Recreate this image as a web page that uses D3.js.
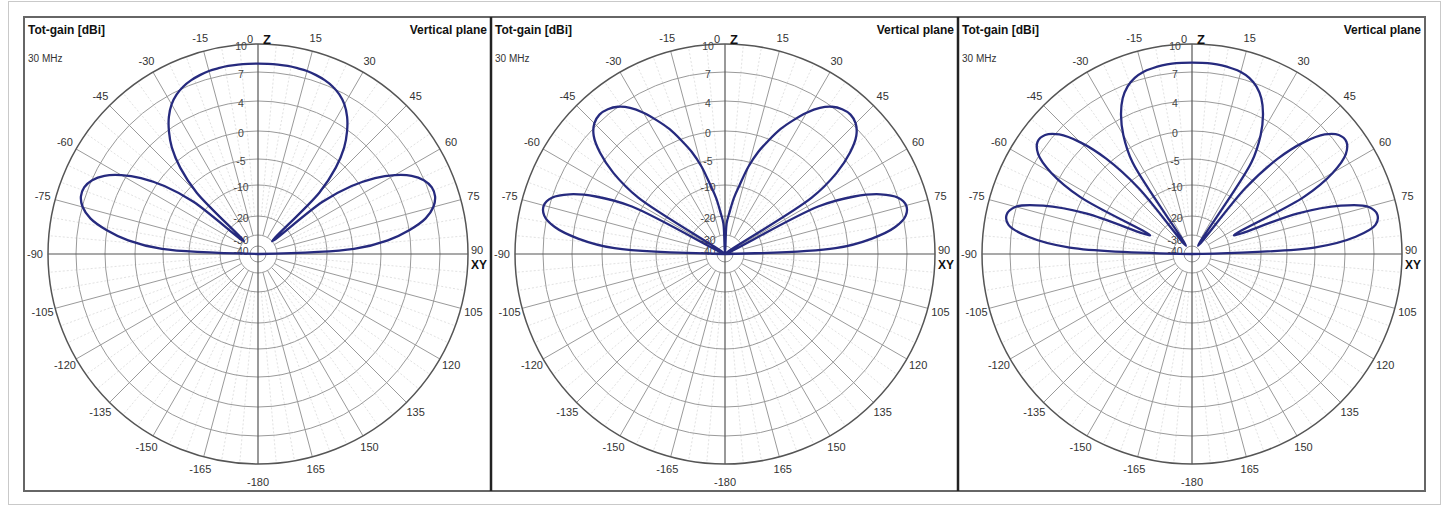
<!DOCTYPE html>
<html>
<head>
<meta charset="utf-8">
<script src="https://cdn.jsdelivr.net/npm/d3@7"></script>
<style>
  body { margin: 0; background: #fff; }
  svg { display: block; font-family: "Liberation Sans", Arial, sans-serif; }
</style>
</head>
<body>
<div id="chart"></div>
<script>
// elevation angle from zenith (Z), degrees
var angles = [-90, -87, -84, -81, -78, -75, -72, -69, -66, -63, -60, -57, -54, -51, -48, -45, -42, -39, -36, -33, -30, -27, -24, -21, -18, -15, -12, -9, -6, -3,
  0, 3, 6, 9, 12, 15, 18, 21, 24, 27, 30, 33, 36, 39, 42, 45, 48, 51, 54, 57, 60, 63, 66, 69, 72, 75, 78, 81, 84, 87, 90];

// total gain [dBi]
var gainLeft = [-50, -4.8, 1.0, 4.05, 5.9, 6.95, 7.45, 7.45, 6.95, 6.0, 4.5, 2.2, -1.3, -7.3, -30, -6.6, -1.2, 1.85, 3.8, 5.1, 6.05, 6.7, 7.15, 7.45, 7.65, 7.8, 7.85, 7.9, 7.9, 7.9,
  7.9, 7.9, 7.9, 7.9, 7.85, 7.8, 7.65, 7.45, 7.15, 6.7, 6.05, 5.1, 3.8, 1.85, -1.2, -6.6, -30, -7.3, -1.3, 2.2, 4.5, 6.0, 6.95, 7.45, 7.45, 6.95, 5.9, 4.05, 1.0, -4.8, -50];

var gainMiddle = [-50, -2.2, 3.3, 6.0, 7.3, 7.6, 7.0, 5.4, 2.45, -3.3, -50, -3.5, 2.0, 4.8, 6.45, 7.3, 7.6, 7.45, 7.0, 6.2, 5.05, 3.6, 1.85, -0.25, -2.8, -5.9, -9.7, -14, -19, -24,
  -50, -24, -19, -14, -9.7, -5.9, -2.8, -0.25, 1.85, 3.6, 5.05, 6.2, 7.0, 7.45, 7.6, 7.3, 6.45, 4.8, 2.0, -3.5, -50, -3.3, 2.45, 5.4, 7.0, 7.6, 7.3, 6.0, 3.3, -2.2, -50];

var gainRight = [-50, -0.1, 5.2, 7.4, 7.8, 7.05, 4.35, -1.85, -17.5, 0.3, 5.0, 7.15, 7.95, 7.75, 6.65, 4.5, 0.7, -7.0, -38, -2.5, 1.9, 4.35, 5.8, 6.75, 7.35, 7.7, 7.85, 7.95, 8.0, 8.0,
  8.0, 8.0, 8.0, 7.95, 7.85, 7.7, 7.35, 6.75, 5.8, 4.35, 1.9, -2.5, -38, -7.0, 0.7, 4.5, 6.65, 7.75, 7.95, 7.15, 5.0, 0.3, -17.5, -1.85, 4.35, 7.05, 7.8, 7.4, 5.2, -0.1, -50];

var ringTicks = [10, 7, 4, 0, -5, -10, -20, -30, -40];
var angleTicks = [15, 30, 45, 60, 75, 90, 105, 120, 135, 150, 165, 180, -165, -150, -135, -120, -105, -90, -75, -60, -45, -30, -15];

var panels = [gainLeft, gainMiddle, gainRight];

var W = 1447, H = 506;
var panelW = 467, panelTop = 17, panelBottom = 491, firstLeft = 24;
var R = 210, cy = 254;

var svg = d3.select("#chart").append("svg")
  .attr("width", W)
  .attr("height", H);

// faint outer frame of the picture
svg.append("rect")
  .attr("x", 8.5).attr("y", 1.5)
  .attr("width", 1432).attr("height", 503)
  .attr("fill", "none")
  .attr("stroke", "#c9c9c9");

// log-like radial scale (ARRL style)
var r = d3.scaleLinear()
  .domain([-50, -40, -30, -20, -10, -5, 0, 4, 7, 10])
  .range([0, 8, 19, 38, 69, 95, 123, 153, 182, R])
  .clamp(true);

var rad = function(a) { return a * Math.PI / 180; };

var line = d3.lineRadial()
  .angle(function(d) { return rad(d[0]); })
  .radius(function(d) { return r(d[1]); })
  .curve(d3.curveCatmullRom.alpha(0.5));

panels.forEach(function(gains, i) {
  var left = firstLeft + i * panelW;
  var cx = left + 234;
  var g = svg.append("g").attr("transform", "translate(" + cx + "," + cy + ")");

  // faint 5 degree spokes
  d3.range(-175, 180, 5).filter(function(a) { return a % 15 !== 0; }).forEach(function(a) {
    g.append("line")
      .attr("x1", r(-20) * Math.sin(rad(a))).attr("y1", -r(-20) * Math.cos(rad(a)))
      .attr("x2", R * Math.sin(rad(a))).attr("y2", -R * Math.cos(rad(a)))
      .attr("stroke", "#e2e2e2")
      .attr("stroke-dasharray", "2,2");
  });

  // dB rings
  g.selectAll(".ring")
    .data(ringTicks.slice(1))
    .enter().append("circle")
    .attr("class", "ring")
    .attr("r", function(d) { return r(d); })
    .attr("fill", "none")
    .attr("stroke", "#9a9a9a");

  // 15 degree spokes
  angleTicks.filter(function(a) { return a % 90 !== 0; }).forEach(function(a) {
    g.append("line")
      .attr("x1", r(-30) * Math.sin(rad(a))).attr("y1", -r(-30) * Math.cos(rad(a)))
      .attr("x2", R * Math.sin(rad(a))).attr("y2", -R * Math.cos(rad(a)))
      .attr("stroke", "#9a9a9a");
  });

  // main axes
  g.append("line").attr("x1", 0).attr("y1", -R).attr("x2", 0).attr("y2", R)
    .attr("stroke", "#555").attr("stroke-width", 1.2);
  g.append("line").attr("x1", -R).attr("y1", 0).attr("x2", R).attr("y2", 0)
    .attr("stroke", "#555").attr("stroke-width", 1.2);

  // outer ring
  g.append("circle").attr("r", R)
    .attr("fill", "none")
    .attr("stroke", "#555")
    .attr("stroke-width", 1.5);

  // dB labels along the Z axis
  g.selectAll(".rlab")
    .data(ringTicks)
    .enter().append("text")
    .attr("class", "rlab")
    .attr("x", -17)
    .attr("y", function(d) { return -r(d) + (d <= -30 ? 5 : 2); })
    .attr("dy", "0.35em")
    .attr("text-anchor", "middle")
    .attr("font-size", 10.5)
    .attr("fill", "#444")
    .text(function(d) { return d; });

  // angle labels
  angleTicks.filter(function(a) { return Math.abs(a) !== 90 && a !== 180; }).forEach(function(a) {
    var rr = R + 13;
    g.append("text")
      .attr("x", rr * Math.sin(rad(a)))
      .attr("y", -rr * Math.cos(rad(a)))
      .attr("dy", "0.35em")
      .attr("text-anchor", "middle")
      .attr("font-size", 11)
      .attr("fill", "#333")
      .text(a);
  });
  g.append("text").attr("x", 0).attr("y", R + 22).attr("text-anchor", "middle")
    .attr("font-size", 11).attr("fill", "#333").text(-180);
  g.append("text").attr("x", -R - 13).attr("y", 4).attr("text-anchor", "middle")
    .attr("font-size", 11).attr("fill", "#333").text(-90);
  g.append("text").attr("x", R + 3).attr("y", 0)
    .attr("font-size", 11).attr("fill", "#333").text(90);
  g.append("text").attr("x", R + 3).attr("y", 15)
    .attr("font-size", 12).attr("font-weight", "bold").attr("fill", "#111").text("XY");
  g.append("text").attr("x", -8).attr("y", -R - 1).attr("text-anchor", "middle")
    .attr("font-size", 11).attr("fill", "#333").text(0);
  g.append("text").attr("x", 5).attr("y", -R)
    .attr("font-size", 13).attr("font-weight", "bold").attr("fill", "#111").text("Z");

  // pattern
  var pts = angles.map(function(a, k) { return [a, gains[k]]; });
  g.append("path")
    .datum(pts)
    .attr("d", line)
    .attr("fill", "none")
    .attr("stroke", "#262a7e")
    .attr("stroke-width", 2.3)
    .attr("stroke-linejoin", "round");

  // panel headings
  svg.append("text").attr("x", left + 4).attr("y", 34)
    .attr("font-size", 12).attr("font-weight", "bold").attr("fill", "#111")
    .text("Tot-gain [dBi]");
  svg.append("text").attr("x", left + panelW - 4).attr("y", 34)
    .attr("text-anchor", "end")
    .attr("font-size", 12).attr("font-weight", "bold").attr("fill", "#111")
    .text("Vertical plane");
  svg.append("text").attr("x", left + 4).attr("y", 62)
    .attr("font-size", 10).attr("fill", "#333")
    .text("30 MHz");
});

// panel frame and dividers
svg.append("rect")
  .attr("x", firstLeft).attr("y", panelTop)
  .attr("width", panelW * 3).attr("height", panelBottom - panelTop)
  .attr("fill", "none")
  .attr("stroke", "#666")
  .attr("stroke-width", 2);
[1, 2].forEach(function(i) {
  svg.append("line")
    .attr("x1", firstLeft + i * panelW).attr("x2", firstLeft + i * panelW)
    .attr("y1", panelTop).attr("y2", panelBottom)
    .attr("stroke", "#222")
    .attr("stroke-width", 2.5);
});
</script>
</body>
</html>
